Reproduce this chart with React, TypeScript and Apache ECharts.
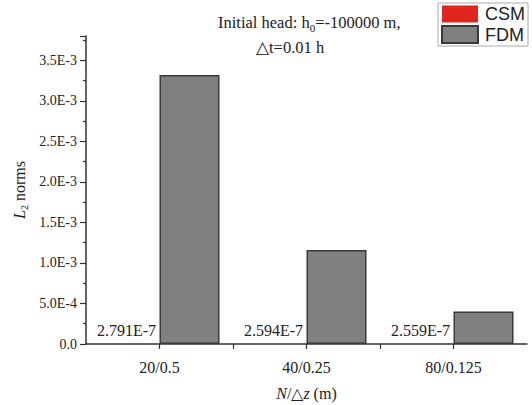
import React, { useEffect, useRef } from "react";
import * as echarts from "echarts";

const categories = ["20/0.5", "40/0.25", "80/0.125"];
const csmValues = [2.791e-7, 2.594e-7, 2.559e-7];
const fdmValues = [3.32e-3, 1.16e-3, 0.4e-3];
const seriesNames = ["CSM", "FDM"];

const SERIF = "'Liberation Serif', 'Times New Roman', serif";
const SANS = "'Liberation Sans', Arial, sans-serif";

function fmtY(v: number): string {
  if (Math.abs(v) < 1e-12) return "0.0";
  const e = Math.floor(Math.log10(v) + 1e-9);
  const m = v / Math.pow(10, e);
  return m.toFixed(1) + "E" + e;
}

export default function App() {
  const ref = useRef<HTMLDivElement>(null);
  useEffect(() => {
    if (!ref.current) return;
    const chart = echarts.init(ref.current, null, { renderer: "svg" });
    const subRich = {
      sub: { fontSize: 10, fontFamily: SERIF, color: "#222", padding: [9, 0, 0, 0] },
      i: { fontStyle: "italic", fontFamily: SERIF, fontSize: 16, color: "#222" },
    };
    chart.setOption({
      animation: false,
      backgroundColor: "#fff",
      title: [
        {
          text: "Initial head: h{sub|0}=-100000 m,",
          left: 218,
          top: 12,
          padding: 0,
          textStyle: {
            fontFamily: SERIF,
            fontSize: 16.5,
            fontWeight: "normal",
            color: "#222",
            rich: {
              sub: { fontSize: 11, fontFamily: SERIF, color: "#222", padding: [10, 0, 0, 0] },
            },
          },
        },
        {
          text: "△t=0.01 h",
          left: 256,
          top: 39,
          padding: 0,
          textStyle: { fontFamily: SERIF, fontSize: 16.5, fontWeight: "normal", color: "#222" },
        },
      ],
      legend: {
        orient: "vertical",
        right: 4,
        top: 3,
        data: seriesNames,
        icon: "rect",
        itemWidth: 36,
        itemHeight: 17,
        itemGap: 2,
        padding: [2, 3, 2, 3],
        borderColor: "#aaa",
        borderWidth: 1,
        textStyle: { fontFamily: SANS, fontSize: 18, color: "#222", padding: [0, 0, 0, 2] },
      },
      grid: { left: 86, right: 5, top: 36, bottom: 61, containLabel: false, outerBoundsMode: "none" },
      xAxis: {
        type: "value",
        min: -0.5,
        max: 2.5,
        interval: 0.5,
        name: "{i|N}/△{i|z} (m)",
        nameLocation: "middle",
        nameGap: 41,
        nameMoveOverlap: false,
        nameTextStyle: { fontFamily: SERIF, fontSize: 16, color: "#222", rich: subRich },
        axisLine: { show: true, onZero: false, lineStyle: { color: "#333", width: 1.5 } },
        axisTick: { show: true, length: 5, lineStyle: { color: "#333", width: 1.2 } },
        axisLabel: {
          fontFamily: SERIF,
          fontSize: 16,
          color: "#222",
          margin: 15,
          showMinLabel: false,
          showMaxLabel: false,
          formatter: (v: number) => (Number.isInteger(v) && categories[v] ? categories[v] : ""),
        },
        splitLine: { show: false },
      },
      yAxis: {
        type: "value",
        min: 0,
        max: 0.0038,
        interval: 0.0005,
        name: "{i|L}{sub|2} norms",
        nameLocation: "middle",
        nameRotate: 90,
        nameGap: 57,
        nameMoveOverlap: false,
        nameTextStyle: { fontFamily: SERIF, fontSize: 16, color: "#222", rich: subRich },
        axisLine: { show: true, onZero: false, lineStyle: { color: "#333", width: 1.5 } },
        axisTick: { show: true, length: 6, lineStyle: { color: "#333", width: 1.2 } },
        minorTick: { show: true, splitNumber: 2, length: 3, lineStyle: { color: "#333", width: 1.2 } },
        axisLabel: {
          fontFamily: SERIF,
          fontSize: 14,
          color: "#222",
          margin: 9,
          showMaxLabel: false,
          formatter: (v: number) => fmtY(v),
        },
        splitLine: { show: false },
      },
      series: [
        {
          name: seriesNames[0],
          type: "bar",
          barWidth: 60,
          barGap: "0%",
          data: csmValues.map((v, i) => [i, v]),
          itemStyle: { color: "#e0261e" },
          label: {
            show: true,
            position: "top",
            distance: 5,
            offset: [-3, 0],
            fontFamily: SERIF,
            fontSize: 16,
            color: "#222",
            formatter: (p: any) => (p.value[1] as number).toExponential(3).toUpperCase(),
          },
        },
        {
          name: seriesNames[1],
          type: "bar",
          barWidth: 60,
          barGap: "0%",
          data: fdmValues.map((v, i) => [i, v]),
          itemStyle: { color: "#808080", borderColor: "#3a3a3a", borderWidth: 1.5 },
        },
      ],
    });
    return () => chart.dispose();
  }, []);
  return <div ref={ref} style={{ width: 532, height: 405, position: "absolute", left: 0, top: 0 }} />;
}
